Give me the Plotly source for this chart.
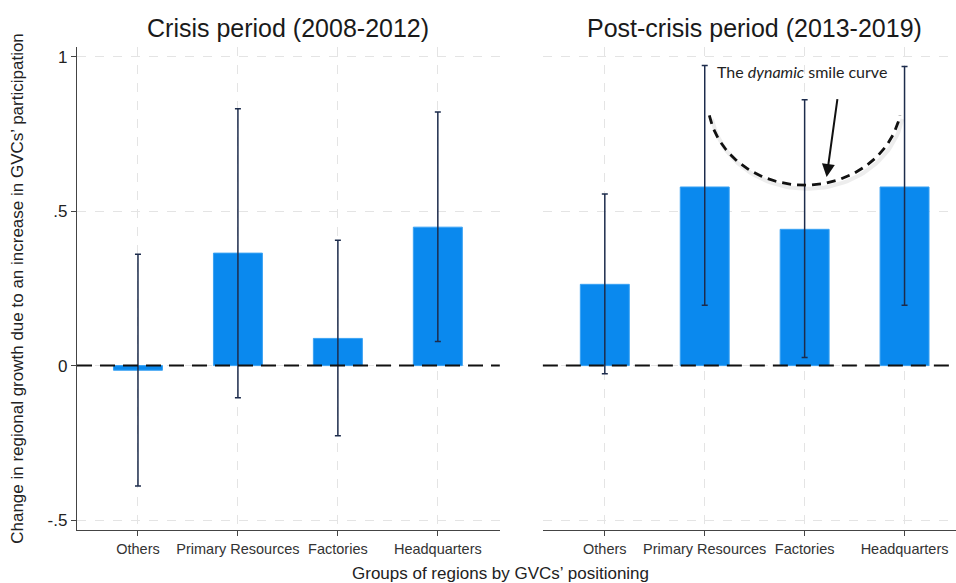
import numpy as np
import plotly.graph_objects as go

# Groups of regions and estimated effects with 95% confidence bounds
categories = ["Others", "Primary Resources", "Factories", "Headquarters"]
cat_pos = [1, 2, 3, 4]

crisis_coef = [-0.015, 0.364, 0.088, 0.448]
crisis_upper = [0.360, 0.831, 0.406, 0.821]
crisis_lower = [-0.390, -0.104, -0.227, 0.078]

post_coef = [0.263, 0.578, 0.441, 0.578]
post_upper = [0.555, 0.971, 0.860, 0.968]
post_lower = [-0.026, 0.195, 0.026, 0.195]

y_ticks = [-0.5, 0, 0.5, 1]
y_tick_labels = ["-.5", "0", ".5", "1"]

BAR_COLOR = "#0a89ee"
BAR_EDGE = "#3aa2f3"
ERR_COLOR = "#1d2c4c"
GRID_COLOR = "#e4e4e4"
AXIS_COLOR = "#444444"
FONT = "Liberation Sans, Arial"

fig = go.Figure()


def add_panel(coef, upper, lower, xa, ya):
    fig.add_trace(go.Bar(
        x=cat_pos, y=coef, width=0.49,
        marker=dict(color=BAR_COLOR, line=dict(color=BAR_EDGE, width=1)),
        error_y=dict(
            type="data", symmetric=False,
            array=[u - c for u, c in zip(upper, coef)],
            arrayminus=[c - l for c, l in zip(coef, lower)],
            color=ERR_COLOR, thickness=1.5, width=3,
        ),
        xaxis=xa, yaxis=ya, showlegend=False, hoverinfo="skip",
    ))


add_panel(crisis_coef, crisis_upper, crisis_lower, "x", "y")
add_panel(post_coef, post_upper, post_lower, "x2", "y2")

# Smile curve sketched over the post-crisis bars
theta = np.linspace(np.pi * 1.058, np.pi * 1.942, 70)
arc_x = 3.0 + 0.97 * np.cos(theta)
arc_y = 0.86 + 0.276 * np.sin(theta)
fig.add_trace(go.Scatter(
    x=arc_x + 0.025, y=arc_y - 0.012, mode="lines",
    line=dict(color="rgba(0,0,0,0.07)", width=4),
    xaxis="x2", yaxis="y2", showlegend=False, hoverinfo="skip",
))
fig.add_trace(go.Scatter(
    x=arc_x, y=arc_y, mode="lines",
    line=dict(color="#111111", width=2.8, dash="9px,6px"),
    xaxis="x2", yaxis="y2", showlegend=False, hoverinfo="skip",
))

x_range = [0.39, 4.62]
y_range = [-0.532, 1.031]

common_x = dict(
    range=x_range, tickmode="array", tickvals=cat_pos, ticktext=categories,
    showgrid=True, gridcolor=GRID_COLOR, griddash="dash", gridwidth=1,
    ticks="outside", ticklen=5, tickcolor=AXIS_COLOR,
    showline=True, linecolor=AXIS_COLOR, linewidth=1.3,
    tickfont=dict(family=FONT, size=14.5, color="#333333"),
    zeroline=False, fixedrange=True,
)
common_y = dict(
    range=y_range, tickmode="array", tickvals=y_ticks, ticktext=y_tick_labels,
    showgrid=True, gridcolor=GRID_COLOR, griddash="dash", gridwidth=1,
    zeroline=False, fixedrange=True,
    tickfont=dict(family=FONT, size=17, color="#222222"),
)

fig.update_layout(
    width=956, height=583,
    margin=dict(l=77, r=0, t=47, b=53),
    plot_bgcolor="white", paper_bgcolor="white",
    xaxis=dict(domain=[0, 0.481], anchor="y", **common_x),
    xaxis2=dict(domain=[0.530, 1.0], anchor="y2", **{**common_x, "range": [0.38, 4.515]}),
    yaxis=dict(domain=[0, 1], anchor="x", showline=True, linecolor=AXIS_COLOR,
               linewidth=1.3, ticks="outside", ticklen=5, tickcolor=AXIS_COLOR,
               title=dict(text="Change in regional growth due to an increase in GVCs’ participation",
                          font=dict(family=FONT, size=17, color="#222222"),
                          standoff=19),
               **common_y),
    yaxis2=dict(domain=[0, 1], anchor="x2", showline=False, ticks="",
                showticklabels=False, **{k: v for k, v in common_y.items() if k != "tickfont"}),
    font=dict(family=FONT, color="#222222"),
)

# Dashed reference line at zero, drawn over the bars
for xa, ya in (("x", "y"), ("x2", "y2")):
    fig.add_shape(type="line", xref=f"{xa} domain", yref=ya, x0=0, x1=1, y0=0, y1=0,
                  line=dict(color="#111111", width=2, dash="15px,8px"), layer="above")

# Panel titles
fig.add_annotation(text="Crisis period (2008-2012)", xref="x domain", yref="paper",
                   x=0.5, y=1.0, yshift=35, showarrow=False,
                   font=dict(family=FONT, size=25, color="#1a1a1a"))
fig.add_annotation(text="Post-crisis period (2013-2019)", xref="x2 domain", yref="paper",
                   x=0.513, y=1.0, yshift=35, showarrow=False,
                   font=dict(family=FONT, size=25, color="#1a1a1a"))

# Shared x-axis title
fig.add_annotation(text="Groups of regions by GVCs’ positioning", xref="paper", yref="paper",
                   x=(500 - 77) / 879, y=0, yshift=-55, showarrow=False,
                   font=dict(family=FONT, size=17, color="#222222"))

# Smile curve label and pointer
fig.add_annotation(text="The <i>dynamic</i> smile curve", xref="x2", yref="y2",
                   x=2.97, y=0.953, showarrow=False,
                   font=dict(family="Lato, Open Sans", size=16, color="#222222"))
fig.add_annotation(xref="x2", yref="y2", axref="x2", ayref="y2",
                   x=3.22, y=0.61, ax=3.33, ay=0.867, text="",
                   showarrow=True, arrowhead=2, arrowsize=1.3, arrowwidth=2,
                   arrowcolor="#111111")

fig.write_html("out.html")
